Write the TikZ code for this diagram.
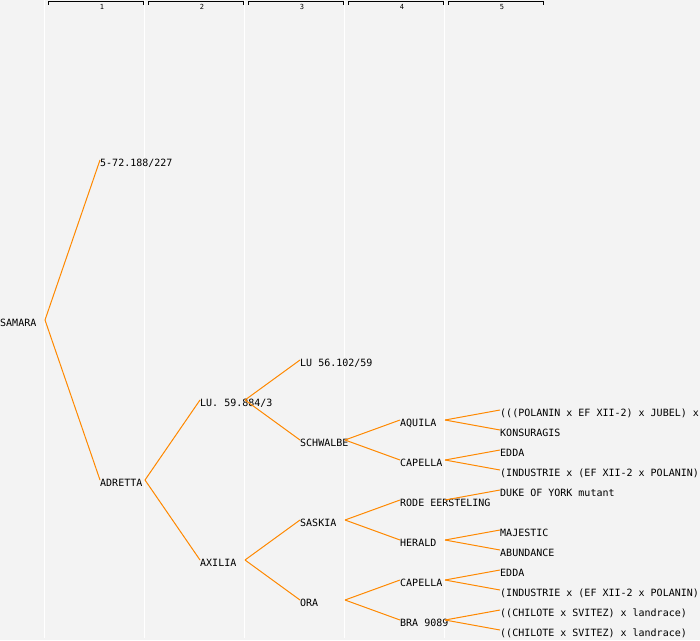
\documentclass[tikz,border=0pt]{standalone}
\usepackage{fontspec}
\setmonofont{DejaVu Sans Mono}
\usepackage{tikz}
\definecolor{pedOrange}{RGB}{255,136,0}
\definecolor{pedBack}{RGB}{243,243,243}
\tikzstyle{pedNode} = [anchor=west, inner sep=0pt, text height=12pt, text depth=0pt, font=\ttfamily\fontsize{10}{12}\selectfont, text=black]
\tikzstyle{link} = [draw=pedOrange, line width=1pt]
\tikzstyle{colLine} = [draw=white, line width=1pt]
\tikzstyle{colHead} = [draw=black, line width=1pt]
\tikzstyle{colLabel} = [inner sep=0pt, font=\ttfamily\fontsize{7}{7}\selectfont]

\begin{document}
\begin{tikzpicture}[x=1pt, y=-1pt]
    \fill[pedBack] (0,0) rectangle (700,640);
    \useasboundingbox (0,0) rectangle (700,640);
    \foreach \c in {1,...,5} {
        \draw[colLine] (100*\c-55.5,0) -- (100*\c-55.5,638);
        \draw[colHead] (100*\c-52,4.5) |- (100*\c+43,1.5) -- (100*\c+43,4.5);
        \node (head\c) [colLabel] at (100*\c+2,7) {\c};
    }

    \node (samara) [pedNode] at (0,320) {SAMARA};
    \node (g572) [pedNode] at (100,160) {5-72.188/227};
    \node (adretta) [pedNode] at (100,480) {ADRETTA};
    \node (lu59) [pedNode] at (200,400) {LU. 59.884/3};
    \node (axilia) [pedNode] at (200,560) {AXILIA};
    \node (lu56) [pedNode] at (300,360) {LU 56.102/59};
    \node (schwalbe) [pedNode] at (300,440) {SCHWALBE};
    \node (saskia) [pedNode] at (300,520) {SASKIA};
    \node (ora) [pedNode] at (300,600) {ORA};
    \node (aquila) [pedNode] at (400,420) {AQUILA};
    \node (capellaA) [pedNode] at (400,460) {CAPELLA};
    \node (rode) [pedNode] at (400,500) {RODE EERSTELING};
    \node (herald) [pedNode] at (400,540) {HERALD};
    \node (capellaB) [pedNode] at (400,580) {CAPELLA};
    \node (bra) [pedNode] at (400,620) {BRA 9089};
    \node (polanin) [pedNode] at (500,410) {(((POLANIN x EF XII-2) x JUBEL) x};
    \node (konsuragis) [pedNode] at (500,430) {KONSURAGIS};
    \node (eddaA) [pedNode] at (500,450) {EDDA};
    \node (industrieA) [pedNode] at (500,470) {(INDUSTRIE x (EF XII-2 x POLANIN))};
    \node (duke) [pedNode] at (500,490) {DUKE OF YORK mutant};
    \node (majestic) [pedNode] at (500,530) {MAJESTIC};
    \node (abundance) [pedNode] at (500,550) {ABUNDANCE};
    \node (eddaB) [pedNode] at (500,570) {EDDA};
    \node (industrieB) [pedNode] at (500,590) {(INDUSTRIE x (EF XII-2 x POLANIN))};
    \node (chiloteA) [pedNode] at (500,610) {((CHILOTE x SVITEZ) x landrace)};
    \node (chiloteB) [pedNode] at (500,630) {((CHILOTE x SVITEZ) x landrace)};

    \foreach \p in {samara,adretta,lu59,axilia,schwalbe,saskia,ora,aquila,capellaA,rode,herald,capellaB,bra}
        \coordinate (j-\p) at ([xshift=45pt]\p.west);

    \foreach \p/\k in {samara/g572, samara/adretta, adretta/lu59, adretta/axilia,
                       lu59/lu56, lu59/schwalbe, axilia/saskia, axilia/ora,
                       schwalbe/aquila, schwalbe/capellaA, saskia/rode, saskia/herald,
                       ora/capellaB, ora/bra, aquila/polanin, aquila/konsuragis,
                       capellaA/eddaA, capellaA/industrieA, rode/duke, herald/majestic,
                       herald/abundance, capellaB/eddaB, capellaB/industrieB,
                       bra/chiloteA, bra/chiloteB}
        \draw [link] (j-\p) -- (\k.west);
\end{tikzpicture}
\end{document}
